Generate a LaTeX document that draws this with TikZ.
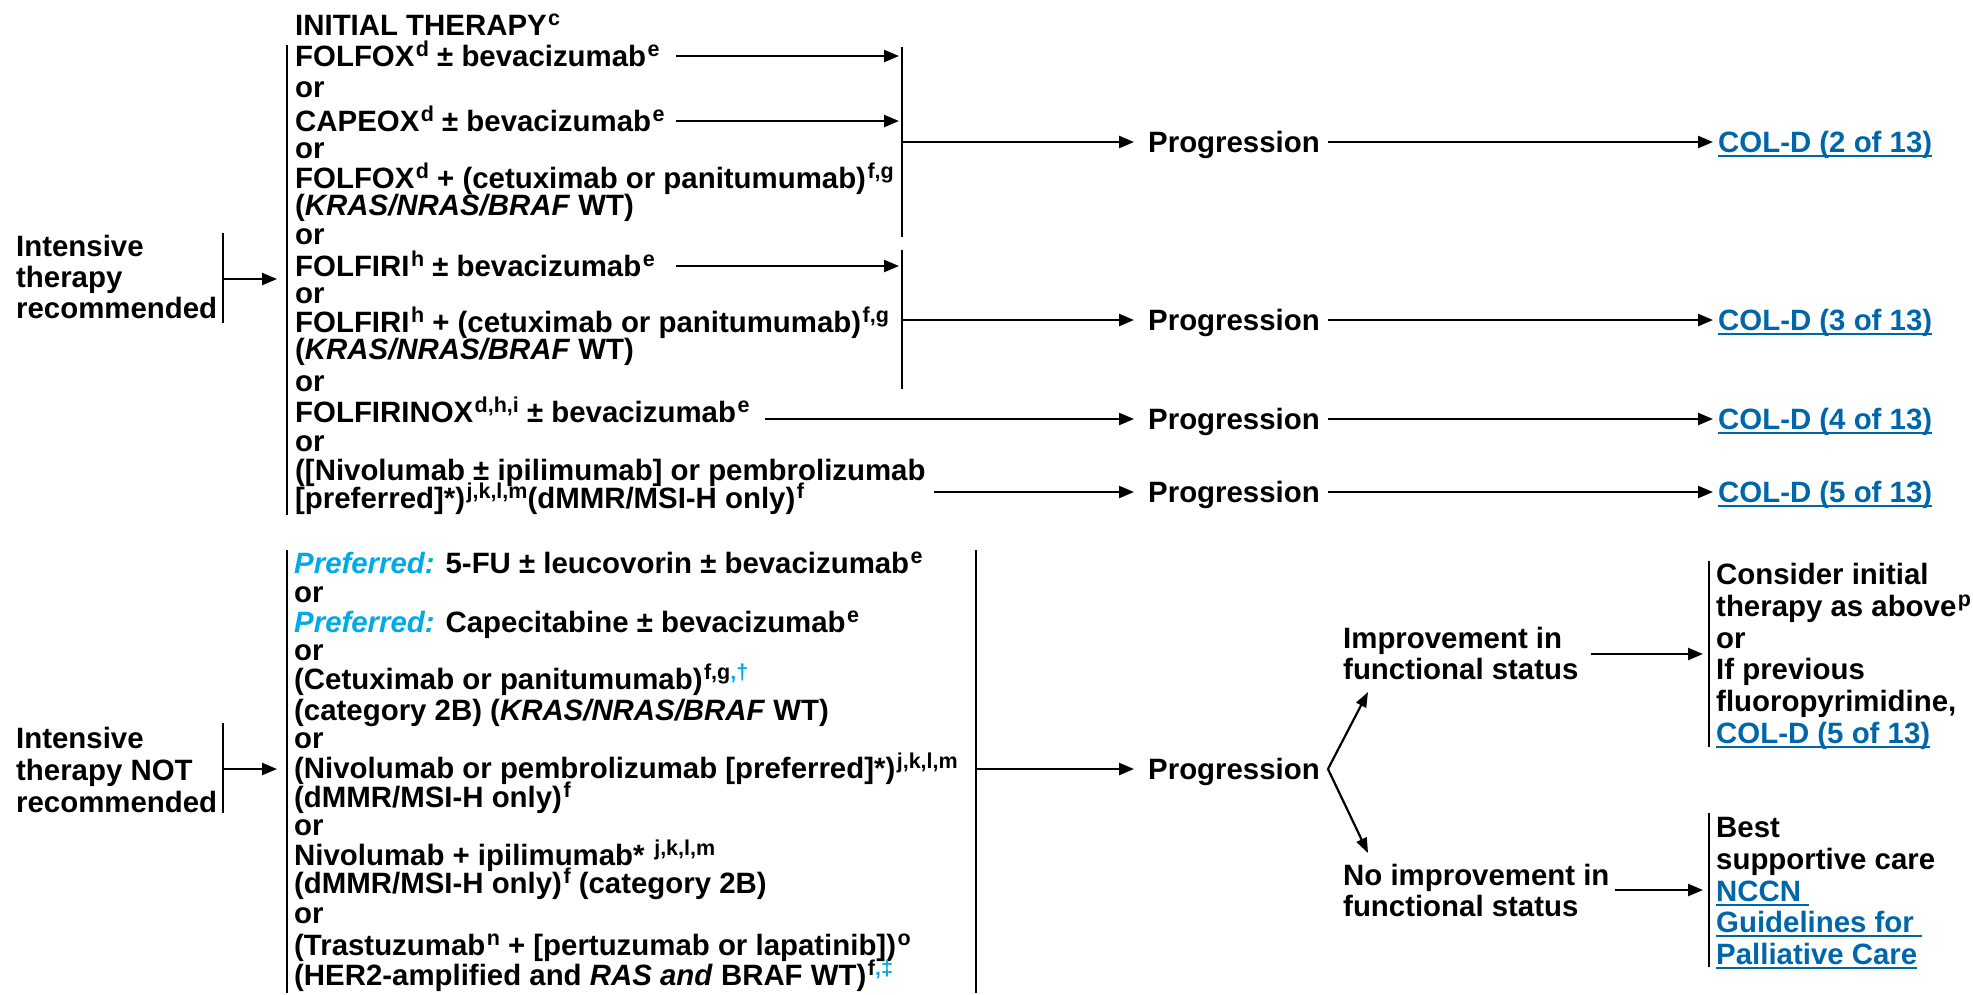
\documentclass[tikz,border=0pt]{standalone}
\usepackage{fontspec}
\setmainfont{Liberation Sans}
\usetikzlibrary{arrows.meta}
\definecolor{linkblue}{RGB}{0,102,170}
\definecolor{prefcyan}{RGB}{0,170,230}
\newsavebox\lnkbox
% raised small footnote letters
\newcommand\sups[1]{\kern1.5pt\raisebox{9.5pt}{\fontsize{21.5}{21.5}\selectfont #1}}
% underlined blue cross-reference
\newcommand\lnk[1]{\textcolor{linkblue}{\sbox\lnkbox{#1}\rlap{\rule[-4.5pt]{\wd\lnkbox}{2pt}}\usebox\lnkbox}}
\newcommand\pref{\textcolor{prefcyan}{\itshape Preferred:}}
\newcommand\wt{(\textit{KRAS/NRAS/BRAF} WT)}

\begin{document}
\begin{tikzpicture}[x=1pt,y=-1pt,
  txt/.style={anchor=base west, inner sep=0pt, text height=22pt, text depth=2pt,
              font=\bfseries\fontsize{29.4}{31}\selectfont},
  arr/.style={line width=2.4pt, -{Triangle[length=15pt,width=12pt]}},
  bar/.style={line width=2pt}]
\useasboundingbox (0,0) rectangle (1973,994);

% ---------- intensive therapy recommended ----------
\node[txt] (la1) at (16,256) {Intensive};
\node[txt] (la2) at (16,287) {therapy};
\node[txt] (la3) at (16,318) {recommended};
\coordinate (L1t) at (223,233);
\coordinate (L1b) at (223,323);
\coordinate (L1m) at (223,279);
\draw[bar] (L1t) -- (L1b);

\node[txt] (t0)  at (295,35)  {INITIAL THERAPY\sups{c}};
\node[txt] (t1)  at (295,66)  {FOLFOX\sups{d} ± bevacizumab\sups{e}};
\node[txt] (t2)  at (295,97)  {or};
\node[txt] (t3)  at (295,131) {CAPEOX\sups{d} ± bevacizumab\sups{e}};
\node[txt] (t4)  at (295,158) {or};
\node[txt] (t5)  at (295,188) {FOLFOX\sups{d} + (cetuximab or panitumumab)\sups{f,g}};
\node[txt] (t6)  at (295,215) {\wt};
\node[txt] (t7)  at (295,244) {or};
\node[txt] (t8)  at (295,276) {FOLFIRI\sups{h} ± bevacizumab\sups{e}};
\node[txt] (t9)  at (295,303) {or};
\node[txt] (t10) at (295,332) {FOLFIRI\sups{h} + (cetuximab or panitumumab)\sups{f,g}};
\node[txt] (t11) at (295,359) {\wt};
\node[txt] (t12) at (295,391) {or};
\node[txt] (t13) at (295,422) {FOLFIRINOX\sups{d,h,i} ± bevacizumab\sups{e}};
\node[txt] (t14) at (295,451) {or};
\node[txt] (t15) at (295,480) {([Nivolumab ± ipilimumab] or pembrolizumab};
\node[txt] (t16) at (295,508) {[preferred]*)\sups{j,k,l,m}(dMMR/MSI-H only)\sups{f}};

\coordinate (T1t) at (287,45);
\coordinate (T1b) at (287,515);
\draw[bar] (T1t) -- (T1b);
\draw[arr, shorten >=10pt] (L1m) -- (L1m -| T1t);

% collecting brackets
\coordinate (B1t) at (902,47);
\coordinate (B1b) at (902,237);
\coordinate (B2t) at (902,250);
\coordinate (B2b) at (902,389);
\draw[bar] (B1t) -- (B1b);
\draw[bar] (B2t) -- (B2b);
\coordinate (aS) at (676,0);
\draw[arr, shorten >=3pt] (t1.east -| aS) -- (t1.east -| B1t);
\draw[arr, shorten >=3pt] (t3.east -| aS) -- (t3.east -| B1t);
\draw[arr, shorten >=3pt] (t8.east -| aS) -- (t8.east -| B2t);

% progression column
\node[txt] (pr1) at (1148,152) {Progression};
\node[txt] (pr2) at (1148,330) {Progression};
\node[txt] (pr3) at (1148,429) {Progression};
\node[txt] (pr4) at (1148,502) {Progression};

\node[txt] (c1) at (1718,152) {\lnk{COL-D (2 of 13)}};
\node[txt] (c2) at (1718,330) {\lnk{COL-D (3 of 13)}};
\node[txt] (c3) at (1718,429) {\lnk{COL-D (4 of 13)}};
\node[txt] (c4) at (1718,502) {\lnk{COL-D (5 of 13)}};

\path ([xshift=15pt]t13.east) coordinate (t13x);
\coordinate (t16x) at (934,0);
\draw[arr, shorten >=14pt] (B1t |- pr1.west) -- (pr1.west);
\draw[arr, shorten >=14pt] (B2t |- pr2.west) -- (pr2.west);
\draw[arr, shorten >=14pt] (t13x |- pr3.west) -- (pr3.west);
\draw[arr, shorten >=14pt] (t16x |- pr4.west) -- (pr4.west);
\foreach \i in {1,2,3,4}
  \draw[arr, shorten <=8pt, shorten >=5pt] (pr\i.east) -- (c\i.west);

% ---------- intensive therapy not recommended ----------
\node[txt] (lb1) at (16,748) {Intensive};
\node[txt] (lb2) at (16,780) {therapy NOT};
\node[txt] (lb3) at (16,812) {recommended};
\coordinate (L2t) at (223,723);
\coordinate (L2b) at (223,813);
\coordinate (L2m) at (223,769);
\draw[bar] (L2t) -- (L2b);

\node[txt] (b1)  at (294,573) {\pref{} 5-FU ± leucovorin ± bevacizumab\sups{e}};
\node[txt] (b2)  at (294,602) {or};
\node[txt] (b3)  at (294,632) {\pref{} Capecitabine ± bevacizumab\sups{e}};
\node[txt] (b4)  at (294,660) {or};
\node[txt] (b5)  at (294,689) {(Cetuximab or panitumumab)\sups{f,g\textcolor{prefcyan}{,†}}};
\node[txt] (b6)  at (294,720) {(category 2B) \wt};
\node[txt] (b7)  at (294,748) {or};
\node[txt] (b8)  at (294,778) {(Nivolumab or pembrolizumab [preferred]*)\sups{j,k,l,m}};
\node[txt] (b9)  at (294,807) {(dMMR/MSI-H only)\sups{f}};
\node[txt] (b10) at (294,835) {or};
\node[txt] (b11) at (294,865) {Nivolumab + ipilimumab* \sups{j,k,l,m}};
\node[txt] (b12) at (294,893) {(dMMR/MSI-H only)\sups{f} (category 2B)};
\node[txt] (b13) at (294,923) {or};
\node[txt] (b14) at (294,955) {(Trastuzumab\sups{n} + [pertuzumab or lapatinib])\sups{o}};
\node[txt] (b15) at (294,985) {(HER2-amplified and \textit{RAS and} BRAF WT)\sups{f\textcolor{prefcyan}{,‡}}};

\coordinate (T2t) at (287,550);
\coordinate (T2b) at (287,993);
\coordinate (R2t) at (976,550);
\coordinate (R2b) at (976,993);
\draw[bar] (T2t) -- (T2b);
\draw[bar] (R2t) -- (R2b);
\draw[arr, shorten >=10pt] (L2m) -- (L2m -| T2t);

\node[txt] (pr5) at (1148,779) {Progression};
\draw[arr, shorten >=14pt] (R2t |- pr5.west) -- (pr5.west);

\node[txt] (im1) at (1343,648) {Improvement in};
\node[txt] (im2) at (1343,679) {functional status};
\node[txt] (nm1) at (1343,885) {No improvement in};
\node[txt] (nm2) at (1343,916) {functional status};

\path ([xshift=8pt]pr5.east) coordinate (brS);
\coordinate (brU) at (1368,692);
\coordinate (brL) at (1368,853);
\draw[line width=2.2pt, -{Triangle[length=15pt,width=11pt]}] (brS) -- (brU);
\draw[line width=2.2pt, -{Triangle[length=15pt,width=11pt]}] (brS) -- (brL);

% outcome brackets
\coordinate (RUt) at (1709,561);
\coordinate (RUb) at (1709,747);
\coordinate (RLt) at (1709,813);
\coordinate (RLb) at (1709,967);
\draw[bar] (RUt) -- (RUb);
\draw[bar] (RLt) -- (RLb);

\node[txt] (o1) at (1716,584) {Consider initial};
\node[txt] (o2) at (1716,616) {therapy as above\sups{p}};
\node[txt] (o3) at (1716,648) {or};
\node[txt] (o4) at (1716,679) {If previous};
\node[txt] (o5) at (1716,711) {fluoropyrimidine,};
\node[txt] (o6) at (1716,743) {\lnk{COL-D (5 of 13)}};

\node[txt] (s1) at (1716,837) {Best};
\node[txt] (s2) at (1716,869) {supportive care};
\node[txt] (s3) at (1716,901) {\lnk{NCCN\ }};
\node[txt] (s4) at (1716,932) {\lnk{Guidelines for\ }};
\node[txt] (s5) at (1716,964) {\lnk{Palliative Care}};

\coordinate (imA) at (1591,654);
\path ([xshift=5pt]nm1.east) coordinate (nmA);
\draw[arr, shorten >=6pt] (imA) -- (imA -| RUt);
\draw[arr, shorten >=6pt] (nmA |- 0,890) -- (RLt |- 0,890);
\end{tikzpicture}
\end{document}
